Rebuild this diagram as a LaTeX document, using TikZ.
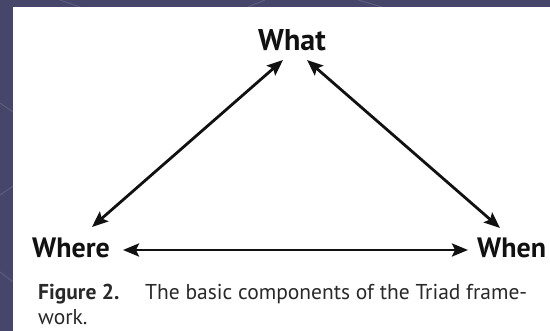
\documentclass[tikz,border=0pt]{standalone}
\usepackage{fontspec}
\setmainfont{PT Sans}
\usetikzlibrary{arrows.meta}
\definecolor{slate}{HTML}{46466B}
\definecolor{ink}{HTML}{111111}
\tikzset{
  label/.style={inner sep=0pt, font=\bfseries\fontsize{28}{32}\selectfont, text=ink},
  toplabel/.style={label, font=\bfseries\fontsize{30}{34}\selectfont},
  caption/.style={inner sep=0pt, font=\fontsize{21.5}{24}\selectfont, text=ink!90},
  link/.style={line width=2.8pt, draw=ink,
    {Stealth[length=16pt,width=13pt,inset=3pt]}-{Stealth[length=16pt,width=13pt,inset=3pt]}},
  streak/.style={white, opacity=0.12, line width=1pt}
}
\begin{document}
\begin{tikzpicture}[x=1pt,y=-1pt]
  % slide background and white panel
  \fill[slate] (0,0) rectangle (550,331);
  \useasboundingbox (0,0) rectangle (550,331);
  \draw[streak] (60,0) -- (80,7);
  \draw[streak] (248,7) -- (265,0);
  \draw[streak] (358,0) -- (382,7);
  \draw[streak] (0,103) -- (13,112);
  \draw[streak] (0,195) -- (13,186);
  \draw[streak] (0,272) -- (13,282);
  \fill[white] (13,7) rectangle (550,331);

  % the three components
  \node[toplabel, anchor=base] (what) at (292,51) {What};
  \node[label, anchor=base west] (where) at (32,258) {Where};
  \node[label, anchor=base west] (when) at (477,258) {When};

  % two-way links
  \draw[link] ([xshift=-9pt,yshift=-9pt]what.base) -- ([xshift=60pt,yshift=31pt]where.base west);
  \draw[link] ([xshift=15pt,yshift=-9pt]what.base) -- ([xshift=23pt,yshift=30pt]when.base west);
  \draw[link] ([xshift=91pt,yshift=8pt]where.base west) -- ([xshift=-9pt,yshift=8pt]when.base west);

  % caption
  \node[caption, anchor=base west] (fig) at (38,300) {\bfseries Figure 2.};
  \node[caption, anchor=base west] (cap1) at (145,300) {The basic components of the Triad frame-};
  \node[caption, anchor=base west] (cap2) at (38,325) {work.};
\end{tikzpicture}
\end{document}
